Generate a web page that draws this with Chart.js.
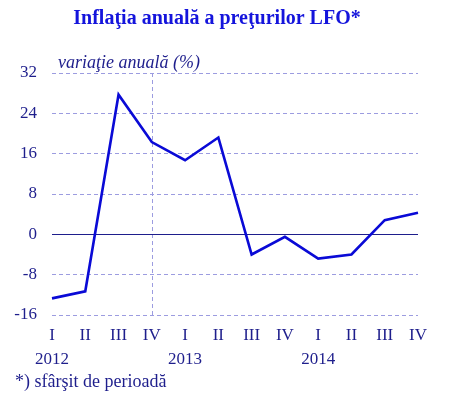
<!DOCTYPE html>
<html>
<head>
<meta charset="utf-8">
<script src="https://cdn.jsdelivr.net/npm/chart.js@4/dist/chart.umd.min.js"></script>
<style>
  html, body { margin: 0; padding: 0; background: #fff; }
  #wrap { width: 453px; height: 398px; }
</style>
</head>
<body>
<div id="wrap"><canvas id="lfoChart" width="453" height="398"></canvas></div>
<script>
// --- date ---
const quarters = ['I', 'II', 'III', 'IV', 'I', 'II', 'III', 'IV', 'I', 'II', 'III', 'IV'];
const years = ['2012', '', '', '', '2013', '', '', '', '2014', '', '', ''];
const inflation = [-12.7, -11.3, 27.7, 18.3, 14.7, 19.2, -4.0, -0.5, -4.8, -4.0, 2.8, 4.3];
const yTicks = [-16, -8, 0, 8, 16, 24, 32];

const titleText = 'Inflaţia anuală a preţurilor LFO*';
const axisText = 'variaţie anuală (%)';
const noteText = '*) sfârşit de perioadă';

const labels = quarters.map((q, i) => years[i] ? [q, years[i]] : q);

const serif = '"Liberation Serif", "Times New Roman", serif';
const navy = '#1e1e8c';
const gridBlue = '#9c9ce0';

// texte + linia zero + linia verticala
const decor = {
    id: 'decor',
    beforeDatasetsDraw(chart) {
        const c = chart.ctx;
        const a = chart.chartArea;
        const x = chart.scales.x, y = chart.scales.y;
        c.save();
        // linia verticala punctata la IV 2012
        c.strokeStyle = gridBlue;
        c.lineWidth = 1;
        c.setLineDash([4, 3]);
        const vx = Math.round(x.getPixelForValue(3)) + 0.5;
        c.beginPath(); c.moveTo(vx, a.top); c.lineTo(vx, a.bottom); c.stroke();
        // linia zero
        c.setLineDash([]);
        c.strokeStyle = navy;
        const zy = Math.round(y.getPixelForValue(0)) + 0.5;
        c.beginPath(); c.moveTo(a.left, zy); c.lineTo(a.right, zy); c.stroke();
        c.restore();
    },
    afterDraw(chart) {
        const c = chart.ctx;
        c.save();
        c.fillStyle = '#1414dc';
        c.font = 'bold 20px ' + serif;
        c.textAlign = 'center';
        c.textBaseline = 'middle';
        c.fillText(titleText, 217, 19);

        c.fillStyle = navy;
        c.font = 'italic 18px ' + serif;
        c.textAlign = 'left';
        c.fillText(axisText, 58, 63);

        c.font = '18px ' + serif;
        c.fillText(noteText, 15, 382);
        c.restore();
    }
};

new Chart(document.getElementById('lfoChart'), {
    type: 'line',
    data: {
        labels: labels,
        datasets: [{
            data: inflation,
            borderColor: '#0a0ad6',
            borderWidth: 2.6,
            pointRadius: 0,
            tension: 0,
            fill: false
        }]
    },
    options: {
        responsive: false,
        animation: false,
        layout: { padding: { top: 73, right: 35, left: 0, bottom: 0 } },
        plugins: {
            legend: { display: false },
            tooltip: { enabled: false }
        },
        scales: {
            x: {
                offset: false,
                afterFit(scale) { scale.height = 83; },
                grid: { display: false, drawTicks: false },
                border: { display: false },
                ticks: {
                    autoSkip: false,
                    maxRotation: 0,
                    padding: 9,
                    color: navy,
                    font: { family: serif, size: 17, lineHeight: 1.4 }
                }
            },
            y: {
                min: -16,
                max: 32,
                afterFit(scale) { scale.width = 52; },
                afterBuildTicks(scale) { scale.ticks = yTicks.map(v => ({ value: v })); },
                grid: {
                    drawTicks: false,
                    color: ctx => ctx.tick && ctx.tick.value === 0 ? 'rgba(0,0,0,0)' : gridBlue,
                    lineWidth: 1
                },
                border: { display: false, dash: [4, 3] },
                ticks: {
                    padding: 15,
                    color: navy,
                    font: { family: serif, size: 17 }
                }
            }
        }
    },
    plugins: [decor]
});
</script>
</body>
</html>
